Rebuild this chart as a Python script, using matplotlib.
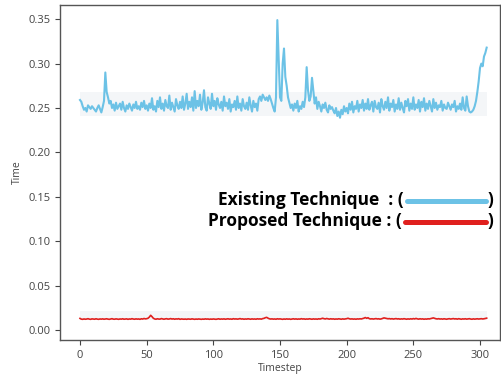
import matplotlib
matplotlib.use("Agg")
import matplotlib.pyplot as plt
import numpy as np

existing = [
    .259, .257, .252, .248, .250, .246, .253, .251, .249, .252,
    .250, .248, .246, .250, .253, .249, .245, .251, .258, .290,
    .268, .262, .255, .258, .250, .254, .247, .256, .249, .252,
    .255, .248, .257, .250, .246, .253, .249, .255, .251, .247,
    .254, .250, .257, .249, .252, .248, .256, .251, .258, .249,
    .253, .247, .255, .250, .261, .248, .252, .246, .258, .251,
    .262, .249, .255, .247, .259, .252, .250, .264, .248, .256,
    .251, .246, .260, .253, .249, .257, .250, .263, .248, .255,
    .266, .249, .257, .251, .262, .247, .269, .250, .258, .252,
    .265, .248, .256, .270, .251, .247, .262, .255, .249, .266,
    .252, .258, .248, .261, .254, .250, .257, .247, .263, .252,
    .256, .249, .260, .246, .254, .251, .258, .248, .263, .250,
    .255, .247, .260, .252, .249, .256, .248, .262, .253, .246,
    .258, .251, .255, .247, .260, .263, .258, .265, .262, .259,
    .262, .258, .264, .260, .255, .250, .246, .262, .349, .305,
    .262, .258, .300, .317, .285, .275, .262, .256, .250, .254,
    .247, .255, .250, .258, .246, .252, .249, .257, .251, .262,
    .296, .270, .258, .263, .284, .270, .255, .262, .249, .257,
    .252, .246, .254, .250, .256, .248, .245, .253, .249, .251,
    .247, .244, .250, .241, .246, .239, .248, .243, .252, .246,
    .250, .244, .255, .248, .257, .245, .252, .249, .258, .246,
    .254, .250, .259, .247, .255, .249, .260, .248, .253, .257,
    .246, .258, .251, .249, .256, .245, .260, .252, .248, .257,
    .250, .262, .247, .255, .251, .259, .246, .254, .249, .261,
    .248, .256, .250, .245, .258, .252, .260, .247, .255, .249,
    .262, .248, .254, .250, .259, .246, .257, .251, .261, .247,
    .255, .249, .258, .252, .246, .260, .250, .256, .248, .253,
    .251, .258, .247, .254, .250, .249, .256, .252, .248, .254,
    .251, .258, .246, .252, .249, .255, .248, .262, .250, .247,
    .263, .252, .246, .245, .246, .248, .252, .258, .268, .280,
    .295, .300, .297, .308, .312, .318,
]

proposed = [
    .0130, .0122, .0120, .0124, .0121, .0123, .0127, .0122, .0120, .0125,
    .0123, .0121, .0126, .0122, .0120, .0124, .0122, .0125, .0121, .0123,
    .0126, .0122, .0120, .0124, .0127, .0122, .0121, .0125, .0123, .0120,
    .0124, .0122, .0126, .0121, .0123, .0125, .0120, .0124, .0122, .0127,
    .0123, .0121, .0125, .0122, .0124, .0120, .0126, .0123, .0129, .0125,
    .0127, .0132, .0145, .0165, .0150, .0132, .0124, .0121, .0126, .0123,
    .0122, .0128, .0124, .0121, .0125, .0127, .0122, .0124, .0128, .0123,
    .0126, .0121, .0125, .0123, .0127, .0120, .0124, .0122, .0121, .0123,
    .0120, .0124, .0122, .0121, .0125, .0122, .0120, .0123, .0121, .0124,
    .0122, .0120, .0123, .0121, .0125, .0122, .0124, .0120, .0123, .0121,
    .0124, .0122, .0120, .0123, .0126, .0121, .0124, .0122, .0125, .0121,
    .0123, .0126, .0122, .0124, .0121, .0127, .0123, .0125, .0122, .0124,
    .0128, .0123, .0125, .0121, .0124, .0122, .0126, .0123, .0121, .0125,
    .0122, .0124, .0121, .0126, .0123, .0125, .0122, .0128, .0131, .0138,
    .0142, .0133, .0126, .0123, .0125, .0122, .0124, .0121, .0126, .0123,
    .0125, .0122, .0120, .0124, .0121, .0125, .0122, .0124, .0120, .0123,
    .0126, .0122, .0125, .0121, .0124, .0122, .0127, .0123, .0125, .0121,
    .0124, .0122, .0126, .0123, .0121, .0125, .0122, .0124, .0121, .0126,
    .0123, .0128, .0132, .0127, .0124, .0129, .0125, .0122, .0126, .0123,
    .0125, .0121, .0124, .0122, .0126, .0123, .0121, .0125, .0122, .0124,
    .0127, .0132, .0126, .0123, .0125, .0122, .0124, .0121, .0125, .0123,
    .0126, .0124, .0128, .0133, .0140, .0131, .0138, .0127, .0124, .0126,
    .0123, .0125, .0128, .0124, .0126, .0122, .0125, .0130, .0136, .0133,
    .0130, .0126, .0128, .0124, .0127, .0123, .0125, .0128, .0124, .0126,
    .0122, .0125, .0123, .0127, .0124, .0121, .0125, .0122, .0126, .0123,
    .0128, .0124, .0130, .0125, .0122, .0126, .0123, .0125, .0121, .0124,
    .0122, .0126, .0124, .0128, .0132, .0136, .0131, .0126, .0124, .0127,
    .0123, .0125, .0122, .0126, .0124, .0121, .0125, .0127, .0123, .0126,
    .0128, .0124, .0126, .0122, .0127, .0124, .0121, .0125, .0123, .0126,
    .0122, .0124, .0127, .0123, .0121, .0125, .0122, .0124, .0126, .0123,
    .0125, .0127, .0124, .0126, .0130, .0133,
]

timesteps = np.arange(len(existing))
band_existing = (0.241, 0.268)
band_proposed = (0.0110, 0.0210)

x_ticks = [0, 50, 100, 150, 200, 250, 300]
y_ticks = [0.00, 0.05, 0.10, 0.15, 0.20, 0.25, 0.30, 0.35]

blue = "#6cc2e6"
red = "#e0201e"

plt.rcParams['font.family'] = ['Open Sans', 'DejaVu Sans']

fig = plt.figure(figsize=(5.02, 3.76), dpi=100)
ax = fig.add_axes([60/502, 36/376, 440/502, 335/376])

ax.fill_between(timesteps, band_existing[0], band_existing[1], color="#f4f6f8", lw=0, zorder=1)
ax.fill_between(timesteps, band_proposed[0], band_proposed[1], color="#f4f6f8", lw=0, zorder=1)
ax.plot(timesteps, existing, color=blue, lw=1.5, zorder=3)
ax.plot(timesteps, proposed, color=red, lw=1.2, zorder=3)

ax.set_xlim(-15, 315)
ax.set_ylim(-0.0113, 0.366)
ax.set_xticks(x_ticks)
ax.set_yticks(y_ticks)
ax.set_yticklabels([f"{v:.2f}" for v in y_ticks])
ax.tick_params(axis='both', labelsize=8, colors="#444444", length=3.5, width=0.8)
ax.set_xlabel("Timestep", fontsize=7.5, color="#444444", labelpad=2)
ax.set_ylabel("Time", fontsize=7.5, color="#444444", labelpad=4)
for s in ax.spines.values():
    s.set_color("#555555")
    s.set_linewidth(1.0)

tf = ax.transAxes
ax.text(0.782, 0.418, "Existing Technique  : (", transform=tf, ha='right', va='center',
        fontsize=12.5, fontweight='bold', color='black')
ax.text(0.776, 0.355, "Proposed Technique : (", transform=tf, ha='right', va='center',
        fontsize=12.5, fontweight='bold', color='black')
ax.plot([0.788, 0.968], [0.415, 0.415], transform=tf, color=blue, lw=3.6, solid_capstyle='round')
ax.plot([0.784, 0.968], [0.352, 0.352], transform=tf, color=red, lw=3.6, solid_capstyle='round')
ax.text(0.972, 0.418, ")", transform=tf, ha='left', va='center', fontsize=12.5, fontweight='bold')
ax.text(0.972, 0.355, ")", transform=tf, ha='left', va='center', fontsize=12.5, fontweight='bold')

fig.savefig("out.png", dpi=100)
